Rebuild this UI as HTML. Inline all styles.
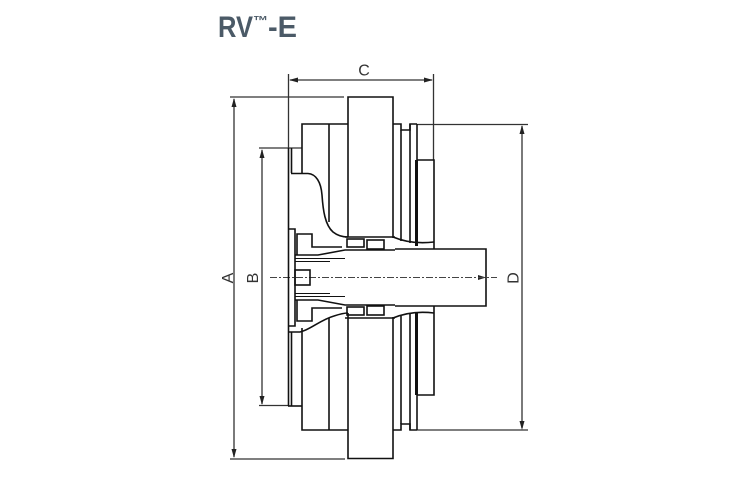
<!DOCTYPE html>
<html>
<head>
<meta charset="utf-8">
<style>
html,body{margin:0;padding:0;background:#fff;}
svg{display:block;}
</style>
</head>
<body>
<svg width="750" height="500" viewBox="0 0 750 500" xmlns="http://www.w3.org/2000/svg">
  <rect width="750" height="500" fill="#fff"/>
  <!-- Title -->
  <g font-family="'Liberation Sans', sans-serif" font-weight="bold" fill="#4b5a67">
    <text x="218" y="37" font-size="30" textLength="35" lengthAdjust="spacingAndGlyphs">RV</text>
    <text x="253" y="25" font-size="13" textLength="15" lengthAdjust="spacingAndGlyphs">™</text>
    <text x="268" y="37" font-size="30" textLength="29" lengthAdjust="spacingAndGlyphs">-E</text>
  </g>

  <!-- Dimension lines -->
  <g stroke="#333" stroke-width="1.3" fill="none">
    <!-- C -->
    <line x1="288.5" y1="74" x2="288.5" y2="148"/>
    <line x1="433.5" y1="74" x2="433.5" y2="160"/>
    <line x1="290" y1="80" x2="432" y2="80"/>
    <!-- A -->
    <line x1="230" y1="97" x2="344" y2="97"/>
    <line x1="230" y1="459" x2="345" y2="459"/>
    <line x1="234" y1="99" x2="234" y2="457"/>
    <!-- B -->
    <line x1="259" y1="148" x2="302" y2="148"/>
    <line x1="259" y1="405.5" x2="288" y2="405.5"/>
    <line x1="262" y1="150" x2="262" y2="404"/>
    <!-- D -->
    <line x1="417" y1="124.5" x2="528" y2="124.5"/>
    <line x1="417" y1="430" x2="528" y2="430"/>
    <line x1="522" y1="126" x2="522" y2="428"/>
  </g>
  <!-- Arrowheads -->
  <g fill="#222">
    <polygon points="289,80 298,77.5 298,82.5"/>
    <polygon points="433,80 424,77.5 424,82.5"/>
    <polygon points="234,98 231.5,107 236.5,107"/>
    <polygon points="234,458 231.5,449 236.5,449"/>
    <polygon points="262,149 259.5,158 264.5,158"/>
    <polygon points="262,405 259.5,396 264.5,396"/>
    <polygon points="522,125 519.5,134 524.5,134"/>
    <polygon points="522,430 519.5,421 524.5,421"/>
    <polygon points="486,277.5 478,275 478,280"/>
  </g>
  <!-- Dimension labels -->
  <g font-family="'Liberation Sans', sans-serif" font-size="16" fill="#333" text-anchor="middle">
    <text x="364" y="75.5">C</text>
    <text transform="translate(233,278) rotate(-90)">A</text>
    <text transform="translate(258,278) rotate(-90)">B</text>
    <text transform="translate(518.5,278) rotate(-90)">D</text>
  </g>

  <!-- Center line -->
  <line x1="270" y1="277.5" x2="497" y2="277.5" stroke="#444" stroke-width="1" stroke-dasharray="7,2,2,2"/>

  <!-- Part outline -->
  <g stroke="#111" stroke-width="1.6" fill="none" stroke-linejoin="miter">
    <!-- Big disc -->
    <path d="M348,237 V97 H393 V238"/>
    <path d="M348,313 V458.5 H393 V317"/>
    <!-- Hub block left of disc -->
    <path d="M302,173 V124 H348"/>
    <line x1="329" y1="124" x2="329" y2="222"/>
    <path d="M302,328 V430 H348"/>
    <line x1="329" y1="318" x2="329" y2="430"/>
    <!-- Left body edge -->
    <line x1="288.5" y1="148" x2="288.5" y2="406"/>
    <line x1="291.5" y1="148" x2="291.5" y2="173"/>
    <line x1="291.5" y1="332" x2="291.5" y2="406"/>
    <path d="M288,406 H302"/>
    <!-- Upper curved profile -->
    <path d="M291,173.5 H308 C316,174 321,182 322,195 C323,210 325,225 333,232 C338,236 343,237 348,237"/>
    <!-- Lower curved profile -->
    <path d="M288,332 H300 C310,330 320,320 334,316 C340,314 344,313 348,313"/>
    <!-- Right of disc, upper -->
    <path d="M393,124 H401 V130 H410 V124 H417"/>
    <line x1="401" y1="130" x2="401" y2="241"/>
    <line x1="410" y1="124" x2="410" y2="243"/>
    <line x1="417" y1="124" x2="417" y2="246"/>
    <path d="M393,237 C405,242 418,244 434,242"/>
    <!-- Right rect upper -->
    <path d="M417,160 H434 V249"/>
    <!-- Right of disc, lower -->
    <path d="M393,430 H401 V424 H410 V430 H417"/>
    <line x1="401" y1="316" x2="401" y2="424"/>
    <line x1="410" y1="314" x2="410" y2="430"/>
    <line x1="417" y1="312" x2="417" y2="430"/>
    <path d="M393,318 C405,313 418,311 434,313"/>
    <!-- Right rect lower -->
    <path d="M434,306 V395 H417"/>
    <!-- Shaft -->
    <path d="M395,249 H486 V306 H395"/>
    <!-- Bore / hub internals upper -->
    <path d="M288,229 H295 V326 H288"/>
    <path d="M297,255 V234 H312 V247 H342"/>
    <path d="M295,255 H318 L345,250 H395"/>
    <line x1="295" y1="258.5" x2="345" y2="258.5" stroke-width="1"/>
    <line x1="295" y1="261.5" x2="330" y2="261.5" stroke-width="1"/>
    <path d="M345,237 H395"/>
    <rect x="347" y="239" width="17" height="8"/>
    <rect x="367" y="240" width="17" height="9"/>
    <!-- Bore / hub internals lower -->
    <path d="M297,300 V321 H312 V308 H342"/>
    <path d="M295,300 H318 L345,305 H395"/>
    <line x1="295" y1="296.5" x2="345" y2="296.5" stroke-width="1"/>
    <line x1="295" y1="293.5" x2="330" y2="293.5" stroke-width="1"/>
    <path d="M345,318 H395"/>
    <rect x="347" y="307" width="17" height="8"/>
    <rect x="367" y="306" width="17" height="9"/>
    <!-- Bolt -->
    <rect x="295" y="270" width="15" height="15"/>
  </g>
  <!-- Thick bar accents -->
  <g fill="#111">
    <rect x="415" y="160" width="3" height="86"/>
    <rect x="415" y="312" width="3" height="83"/>
  </g>
</svg>
</body>
</html>
